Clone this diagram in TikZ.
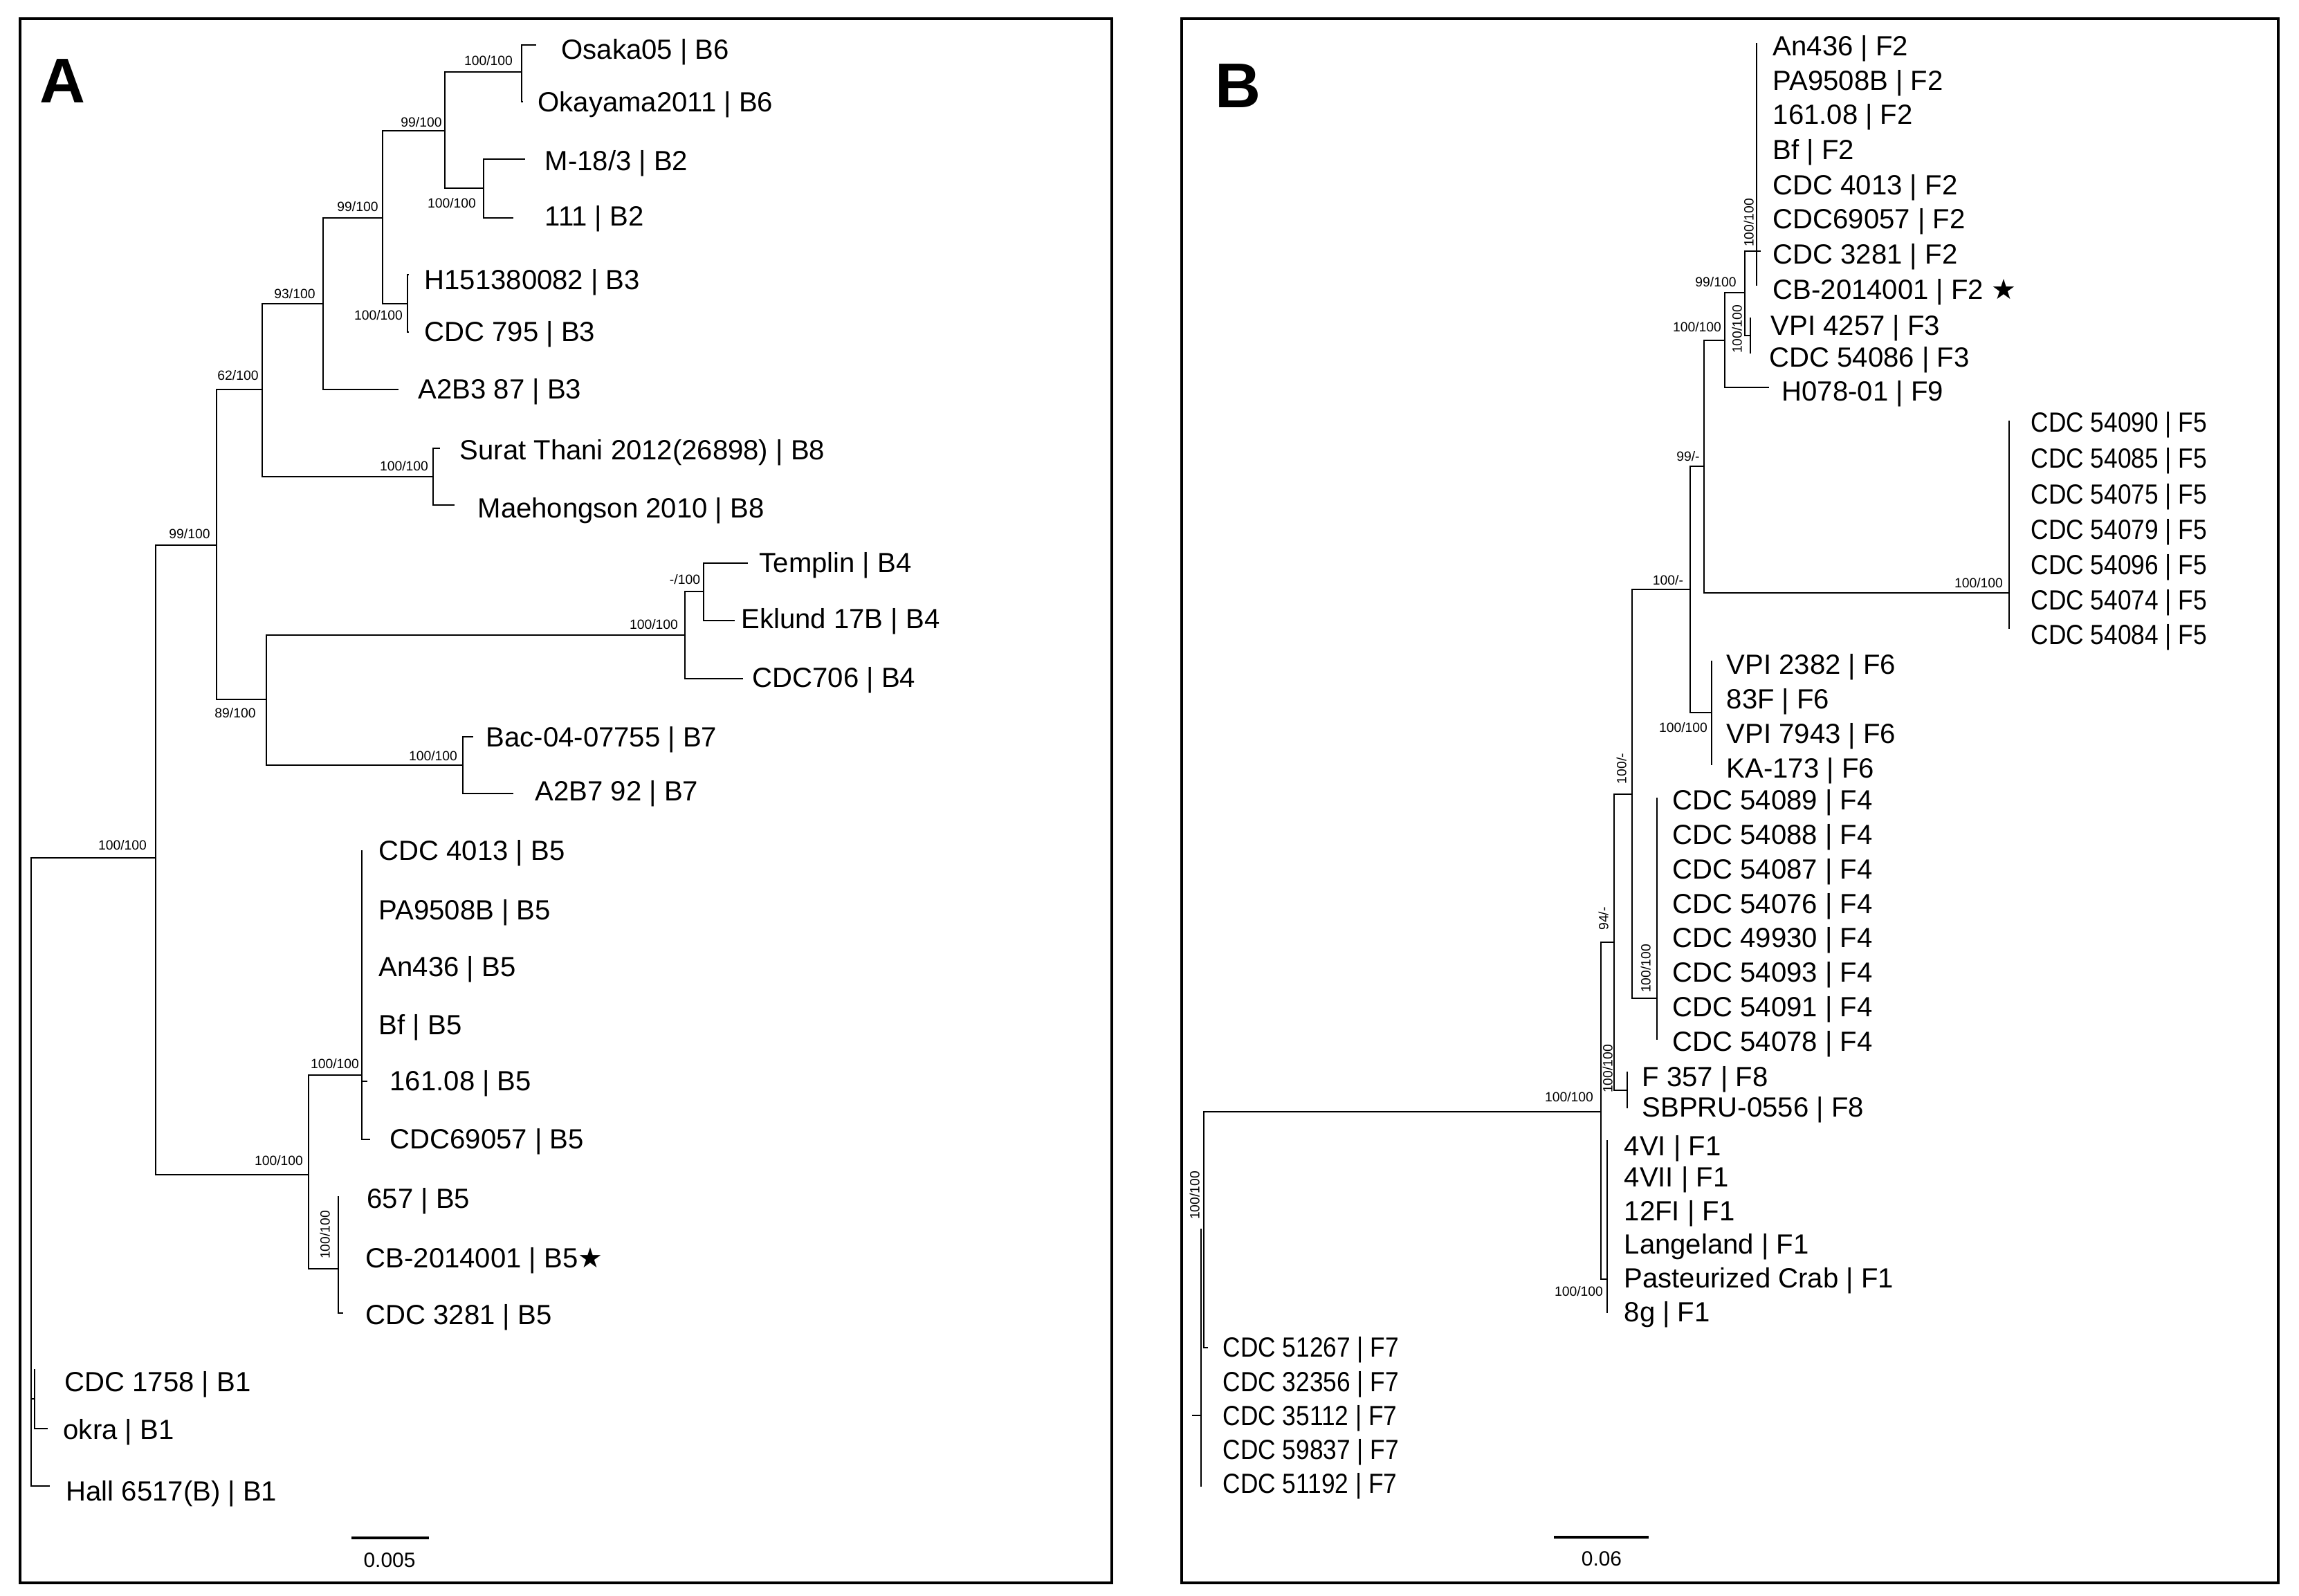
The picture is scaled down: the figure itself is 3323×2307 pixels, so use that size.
\documentclass[tikz,border=0pt]{standalone}
\usepackage{fontspec}
\setmainfont{Liberation Sans}
\newfontfamily\starfont{DejaVu Sans}
\usepackage{graphicx}
\tikzset{
  br/.style={line width=0.6pt},
  frame/.style={line width=1.3pt},
  leaf/.style={anchor=west, inner sep=0pt, text height=7.85pt, text depth=0pt, font=\fontsize{11.4pt}{13pt}\selectfont},
  boot/.style={inner sep=0pt, text height=3.8pt, text depth=0pt, font=\fontsize{5.5pt}{6pt}\selectfont},
  rboot/.style={boot, rotate=90},
  panel/.style={inner sep=0pt, font=\fontsize{26pt}{28pt}\selectfont\bfseries},
  scalelbl/.style={inner sep=0pt, font=\fontsize{8.5pt}{10pt}\selectfont},
  sbar/.style={line width=1.1pt},
}
\newcommand{\cnd}[1]{\scalebox{0.88}[1]{#1}}
\begin{document}
\begin{tikzpicture}[x=0.01cm,y=-0.01cm]
\useasboundingbox (0,0) rectangle (3323,2307);
% frames
\draw[frame] (29,27) rectangle (1607,2288);
\draw[frame] (1708,27) rectangle (3293,2288);
\node[panel] (pA) at (91,117) {A};
\node[panel] (pB) at (1789,124) {B};

% ================= Panel A =================
\coordinate (rootA) at (45,2022);
\coordinate (inA) at (225,1240);
\coordinate (up) at (313,788);
\coordinate (n62) at (379,563);
\coordinate (n93) at (467,439);
\coordinate (n99b) at (553,315);
\coordinate (n99a) at (643,189);
\coordinate (nb6) at (754,104);
\coordinate (nb2) at (699,272);
\coordinate (nb3) at (589,439);
\coordinate (nb8) at (626,689);
\coordinate (n89) at (385,1011);
\coordinate (nb4) at (990,918);
\coordinate (nm) at (1017,855);
\coordinate (nb7) at (669,1106);
\coordinate (b5) at (446,1698);
\coordinate (b5a) at (523,1554);
\coordinate (b5b) at (489,1834);
\coordinate (b1) at (50,2022);
% tips
\coordinate (tOsaka) at (775,65);
\coordinate (tOkayama) at (756,147);
\coordinate (tM18) at (759,230);
\coordinate (t111) at (742,315);
\coordinate (tH15) at (591,397);
\coordinate (t795) at (591,480);
\coordinate (tA2B3) at (576,563);
\coordinate (tSurat) at (636,648);
\coordinate (tMae) at (657,730);
\coordinate (tTemplin) at (1081,814);
\coordinate (tEklund) at (1062,897);
\coordinate (t706) at (1074,981);
\coordinate (tBac) at (684,1065);
\coordinate (tA2B7) at (742,1147);
\coordinate (t4013) at (524,1230);
\coordinate (t161) at (531,1563);
\coordinate (t69057) at (535,1647);
\coordinate (t657) at (490,1730);
\coordinate (t3281) at (496,1898);
\coordinate (t1758) at (51,1980);
\coordinate (tokra) at (69,2065);
\coordinate (tHall) at (72,2148);

\foreach \p/\c in {rootA/inA, rootA/b1, rootA/tHall, inA/up, inA/b5, up/n62, up/n89,
  n62/n93, n62/nb8, n93/n99b, n93/tA2B3, n99b/n99a, n99b/nb3, n99a/nb6, n99a/nb2,
  nb6/tOsaka, nb6/tOkayama, nb2/tM18, nb2/t111, nb3/tH15, nb3/t795, nb8/tSurat, nb8/tMae,
  n89/nb4, n89/nb7, nb4/nm, nb4/t706, nm/tTemplin, nm/tEklund, nb7/tBac, nb7/tA2B7,
  b5/b5a, b5/b5b, b5a/t4013, b5a/t161, b5a/t69057, b5b/t657, b5b/t3281, b1/t1758, b1/tokra}
  \draw[br] (\p) |- (\c);

% leaf labels A
\node[leaf] (lOsaka) at (811,72) {Osaka05 | B6};
\node[leaf] (lOkayama) at (777,148) {Okayama2011 | B6};
\node[leaf] (lM18) at (787,233) {M-18/3 | B2};
\node[leaf] (l111) at (787,313) {111 | B2};
\node[leaf] (lH15) at (613,405) {H151380082 | B3};
\node[leaf] (l795) at (613,480) {CDC 795 | B3};
\node[leaf] (lA2B3) at (604,563) {A2B3 87 | B3};
\node[leaf] (lSurat) at (664,651) {Surat Thani 2012(26898) | B8};
\node[leaf] (lMae) at (690,735) {Maehongson 2010 | B8};
\node[leaf] (lTemplin) at (1097,814) {Templin | B4};
\node[leaf] (lEklund) at (1071,895) {Eklund 17B | B4};
\node[leaf] (l706) at (1087,980) {CDC706 | B4};
\node[leaf] (lBac) at (702,1066) {Bac-04-07755 | B7};
\node[leaf] (lA2B7) at (773,1144) {A2B7 92 | B7};
\node[leaf] (l4013) at (547,1230) {CDC 4013 | B5};
\node[leaf] (lPA) at (547,1316) {PA9508B | B5};
\node[leaf] (lAn) at (547,1398) {An436 | B5};
\node[leaf] (lBf) at (547,1482) {Bf | B5};
\node[leaf] (l161) at (563,1563) {161.08 | B5};
\node[leaf] (l69057) at (563,1647) {CDC69057 | B5};
\node[leaf] (l657) at (530,1733) {657 | B5};
\node[leaf] (lCB) at (528,1819) {CB-2014001 | B5{\starfont ★}};
\node[leaf] (l3281) at (528,1901) {CDC 3281 | B5};
\node[leaf] (l1758) at (93,1998) {CDC 1758 | B1};
\node[leaf] (lokra) at (91,2067) {okra | B1};
\node[leaf] (lHall) at (95,2156) {Hall 6517(B) | B1};

% bootstrap A
\node[boot] (bA1) at (706,88) {100/100};
\node[boot] (bA2) at (609,177) {99/100};
\node[boot] (bA3) at (653,294) {100/100};
\node[boot] (bA4) at (517,299) {99/100};
\node[boot] (bA5) at (547,456) {100/100};
\node[boot] (bA6) at (426,425) {93/100};
\node[boot] (bA7) at (344,543) {62/100};
\node[boot] (bA8) at (584,674) {100/100};
\node[boot] (bA9) at (274,772) {99/100};
\node[boot] (bA10) at (990,838) {-/100};
\node[boot] (bA11) at (945,903) {100/100};
\node[boot] (bA12) at (340,1031) {89/100};
\node[boot] (bA13) at (626,1093) {100/100};
\node[boot] (bA14) at (177,1222) {100/100};
\node[boot] (bA15) at (484,1538) {100/100};
\node[boot] (bA16) at (403,1678) {100/100};
\node[rboot] (bA17) at (470,1785) {100/100};

% scale A
\coordinate (sA1) at (508,2223);
\coordinate (sA2) at (620,2223);
\draw[sbar] (sA1) -- (sA2);
\node[scalelbl] (sAl) at (563,2255) {0.005};

% ================= Panel B =================
\coordinate (rstub) at (1723,2046);
\coordinate (f7) at (1736,2046);
\coordinate (f7top) at (1736,1776);
\coordinate (f7bot) at (1736,2149);
\coordinate (rB) at (1740,1776);
\coordinate (t51267) at (1746,1948);
\coordinate (W) at (2314,1607);
\coordinate (Z) at (2333,1362);
\coordinate (Y) at (2359,1148);
\coordinate (X) at (2443,852);
\coordinate (n99m) at (2463,674);
\coordinate (n100) at (2493,492);
\coordinate (n99) at (2522,423);
\coordinate (f2) at (2539,363);
\coordinate (f3) at (2530,485);
\coordinate (f5) at (2904,857);
\coordinate (f6) at (2474,1030);
\coordinate (f4) at (2395,1443);
\coordinate (f8) at (2352,1576);
\coordinate (f1) at (2323,1849);
\coordinate (tH078) at (2557,560);
\coordinate (f2t) at (2540,63);
\coordinate (f2b) at (2540,412);
\coordinate (f2k) at (2545,363);
\coordinate (f3t) at (2531,460);
\coordinate (f3b) at (2531,510);
\coordinate (f5t) at (2905,609);
\coordinate (f5b) at (2905,908);
\coordinate (f6t) at (2475,956);
\coordinate (f6b) at (2475,1105);
\coordinate (f4t) at (2396,1154);
\coordinate (f4b) at (2396,1502);
\coordinate (f8t) at (2353,1550);
\coordinate (f8b) at (2353,1601);
\coordinate (f1t) at (2324,1649);
\coordinate (f1b) at (2324,1897);

\draw[br] (rstub) -- (f7);
\foreach \p/\c in {f7/f7top, f7/f7bot, rB/W, rB/t51267, W/Z, W/f1, Z/Y, Z/f8, Y/X, Y/f4,
  X/n99m, X/f6, n99m/n100, n99m/f5, n100/n99, n100/tH078, n99/f2, n99/f3,
  f2/f2t, f2/f2b, f2/f2k, f3/f3t, f3/f3b, f5/f5t, f5/f5b, f6/f6t, f6/f6b,
  f4/f4t, f4/f4b, f8/f8t, f8/f8b, f1/f1t, f1/f1b}
  \draw[br] (\p) |- (\c);

% leaf labels B
\node[leaf] (mAn) at (2562,67) {An436 | F2};
\node[leaf] (mPA) at (2562,117) {PA9508B | F2};
\node[leaf] (m161) at (2562,166) {161.08 | F2};
\node[leaf] (mBf) at (2562,217) {Bf | F2};
\node[leaf] (m4013) at (2562,268) {CDC 4013 | F2};
\node[leaf] (m69057) at (2562,317) {CDC69057 | F2};
\node[leaf] (m3281) at (2562,368) {CDC 3281 | F2};
\node[leaf] (mCB) at (2562,419) {CB-2014001 | F2 {\starfont ★}};
\node[leaf] (mVPI4257) at (2559,471) {VPI 4257 | F3};
\node[leaf] (m54086) at (2557,517) {CDC 54086 | F3};
\node[leaf] (mH078) at (2575,566) {H078-01 | F9};
\node[leaf] (m54090) at (2935,611) {\cnd{CDC 54090 | F5}};
\node[leaf] (m54085) at (2935,663) {\cnd{CDC 54085 | F5}};
\node[leaf] (m54075) at (2935,715) {\cnd{CDC 54075 | F5}};
\node[leaf] (m54079) at (2935,766) {\cnd{CDC 54079 | F5}};
\node[leaf] (m54096) at (2935,817) {\cnd{CDC 54096 | F5}};
\node[leaf] (m54074) at (2935,868) {\cnd{CDC 54074 | F5}};
\node[leaf] (m54084) at (2935,918) {\cnd{CDC 54084 | F5}};
\node[leaf] (mVPI2382) at (2495,961) {VPI 2382 | F6};
\node[leaf] (m83F) at (2495,1011) {83F | F6};
\node[leaf] (mVPI7943) at (2495,1061) {VPI 7943 | F6};
\node[leaf] (mKA) at (2495,1111) {KA-173 | F6};
\node[leaf] (m54089) at (2417,1157) {CDC 54089 | F4};
\node[leaf] (m54088) at (2417,1207) {CDC 54088 | F4};
\node[leaf] (m54087) at (2417,1257) {CDC 54087 | F4};
\node[leaf] (m54076) at (2417,1307) {CDC 54076 | F4};
\node[leaf] (m49930) at (2417,1356) {CDC 49930 | F4};
\node[leaf] (m54093) at (2417,1406) {CDC 54093 | F4};
\node[leaf] (m54091) at (2417,1456) {CDC 54091 | F4};
\node[leaf] (m54078) at (2417,1506) {CDC 54078 | F4};
\node[leaf] (mF357) at (2373,1557) {F 357 | F8};
\node[leaf] (mSB) at (2373,1601) {SBPRU-0556 | F8};
\node[leaf] (m4VI) at (2347,1657) {4VI | F1};
\node[leaf] (m4VII) at (2347,1702) {4VII | F1};
\node[leaf] (m12FI) at (2347,1751) {12FI | F1};
\node[leaf] (mLang) at (2347,1799) {Langeland | F1};
\node[leaf] (mPast) at (2347,1848) {Pasteurized Crab | F1};
\node[leaf] (m8g) at (2347,1897) {8g | F1};
\node[leaf] (m51267) at (1767,1948) {\cnd{CDC 51267 | F7}};
\node[leaf] (m32356) at (1767,1998) {\cnd{CDC 32356 | F7}};
\node[leaf] (m35112) at (1767,2047) {\cnd{CDC 35112 | F7}};
\node[leaf] (m59837) at (1767,2096) {\cnd{CDC 59837 | F7}};
\node[leaf] (m51192) at (1767,2145) {\cnd{CDC 51192 | F7}};

% bootstrap B
\node[rboot] (bB1) at (2528,322) {100/100};
\node[boot] (bB2) at (2480,408) {99/100};
\node[rboot] (bB3) at (2511,476) {100/100};
\node[boot] (bB4) at (2453,473) {100/100};
\node[boot] (bB5) at (2440,660) {99/-};
\node[boot] (bB6) at (2860,843) {100/100};
\node[boot] (bB7) at (2411,839) {100/-};
\node[boot] (bB8) at (2433,1052) {100/100};
\node[rboot] (bB9) at (2344,1111) {100/-};
\node[rboot] (bB10) at (2318,1328) {94/-};
\node[rboot] (bB11) at (2379,1400) {100/100};
\node[rboot] (bB12) at (2324,1545) {100/100};
\node[boot] (bB13) at (2268,1586) {100/100};
\node[boot] (bB14) at (2282,1867) {100/100};
\node[rboot] (bB15) at (1727,1728) {100/100};

% scale B
\coordinate (sB1) at (2246,2222);
\coordinate (sB2) at (2383,2222);
\draw[sbar] (sB1) -- (sB2);
\node[scalelbl] (sBl) at (2315,2253) {0.06};
\end{tikzpicture}
\end{document}
